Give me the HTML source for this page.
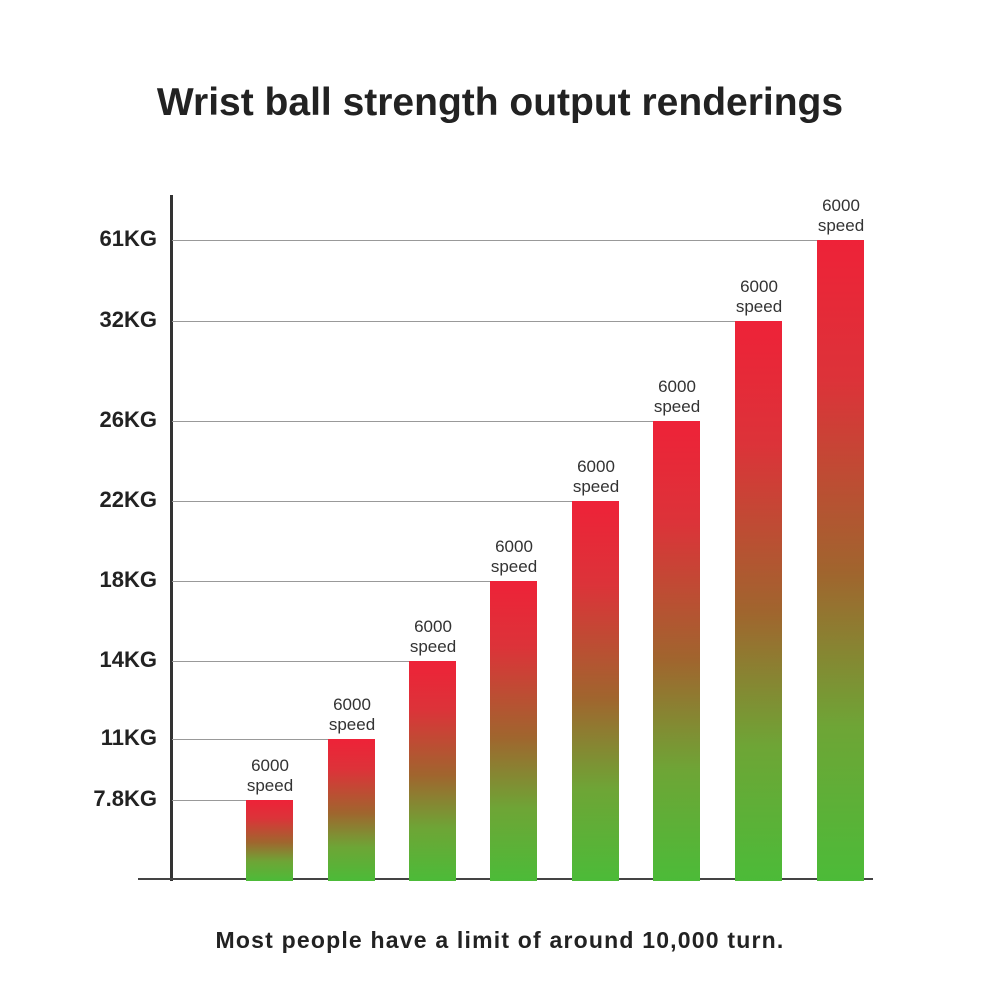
<!DOCTYPE html>
<html><head><meta charset="utf-8"><style>
body{margin:0;width:1000px;height:1000px;background:#fff;position:relative;overflow:hidden;font-family:"Liberation Sans","DejaVu Sans",sans-serif}
.t{position:absolute;left:0;width:1000px;text-align:center;font-weight:bold;color:#222}
.g{position:absolute;left:172px;height:1px;background:#999}
.y{position:absolute;left:60px;width:97px;text-align:right;font-weight:bold;font-size:22px;color:#222}
.b{position:absolute;width:47px;bottom:119px}
.l{position:absolute;width:90px;text-align:center;font-size:17px;line-height:20px;color:#333}
</style></head><body>
<div class="t" style="top:81px;font-size:39px">Wrist ball strength output renderings</div>
<div class="t" style="top:927px;font-size:23px;letter-spacing:1.2px">Most people have a limit of around 10,000 turn.</div>
<div style="position:absolute;left:170px;top:195px;width:3px;height:686px;background:#333"></div>
<div style="position:absolute;left:138px;top:878px;width:735px;height:2px;background:#444"></div>
<div id="c"></div>
<script>
var xs=[246,328,409,490,572,653,735,817],tops=[800,739,661,581,501,421,321,240],
labs=["7.8KG","11KG","14KG","18KG","22KG","26KG","32KG","61KG"],h="";
for(var i=0;i<8;i++){var t=tops[i],H=881-t;
h+='<div class="g" style="top:'+t+'px;width:'+(xs[i]-172)+'px"></div>';
h+='<div class="y" style="top:'+(t-14)+'px">'+labs[i]+'</div>';
h+='<div class="b" style="left:'+xs[i]+'px;top:'+t+'px;height:'+H+'px;background:linear-gradient(#ee2238 0%,#dc3339 22%,#a0652e 52%,#6ea536 76%,#4cbb38 100%)"></div>';
h+='<div class="l" style="left:'+(xs[i]-21)+'px;top:'+(t-44)+'px">6000<br>speed</div>';}
document.getElementById("c").innerHTML=h;
</script>
</body></html>
